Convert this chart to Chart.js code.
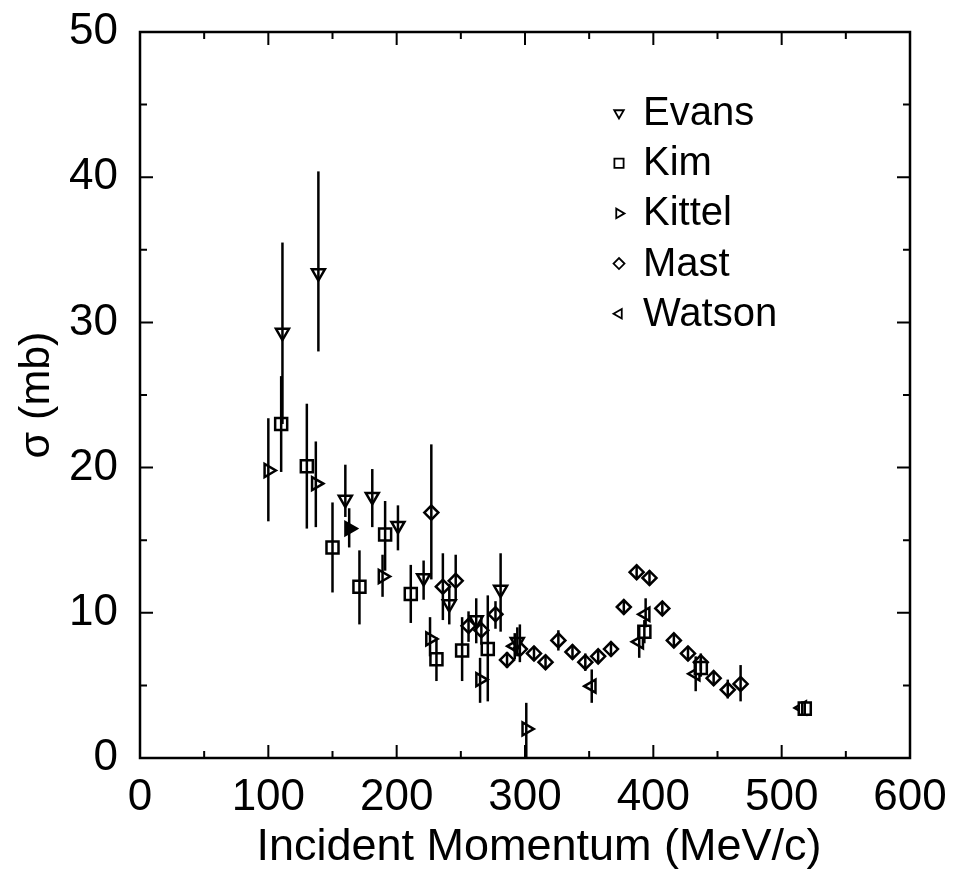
<!DOCTYPE html>
<html>
<head>
<meta charset="utf-8">
<script src="https://cdn.jsdelivr.net/npm/chart.js@4.4.1/dist/chart.umd.min.js"></script>
<style>
  html, body { margin: 0; padding: 0; background: #fff; }
  #wrap { width: 953px; height: 869px; }
</style>
</head>
<body>
<div id="wrap"><canvas id="chart"></canvas></div>
<script>
// tick labels
const xTicks = [0, 100, 200, 300, 400, 500, 600];
const yTicks = [0, 10, 20, 30, 40, 50];

// Evans
const evansX  = [111, 139, 160, 181, 201, 221, 241, 262, 281, 294];
const evansY  = [29.3, 33.4, 17.8, 18.0, 16.0, 12.4, 10.6, 9.5, 11.6, 8.0];
const evansLo = [23.0, 28.0, 16.6, 15.9, 14.3, 10.9, 9.2, 7.9, 8.7, 7.0];
const evansHi = [35.5, 40.4, 20.2, 19.9, 17.4, 13.6, 12.0, 11.0, 14.1, 9.0];

// Kim
const kimX  = [110, 130, 150, 171, 191, 211, 231, 251, 271, 393, 437, 518];
const kimY  = [23.0, 20.1, 14.5, 11.8, 15.4, 11.3, 6.8, 7.4, 7.5, 8.7, 6.2, 3.4];
const kimLo = [19.7, 15.8, 11.4, 9.2, 12.9, 9.3, 5.3, 5.3, 3.9, 7.9, 5.6, 3.0];
const kimHi = [26.3, 24.4, 17.6, 14.3, 17.7, 13.3, 8.3, 9.7, 11.2, 9.5, 6.8, 3.8];

// Kittel
const kittelX  = [100, 137, 163, 189, 226, 265, 301];
const kittelY  = [19.8, 18.9, 15.8, 12.5, 8.2, 5.4, 2.0];
const kittelLo = [16.3, 15.9, 14.5, 11.1, 7.0, 3.8, 0.0];
const kittelHi = [23.4, 21.8, 17.2, 14.0, 9.7, 6.9, 3.8];

// Mast
const mastX  = [227, 236, 246, 256, 266, 277, 286, 296, 307, 316, 326, 337, 347,
                357, 367, 377, 387, 397, 407, 416, 427, 437, 447, 458, 468];
const mastY  = [16.9, 11.8, 12.2, 9.1, 8.8, 9.9, 6.75, 7.5, 7.2, 6.6, 8.1, 7.3, 6.6,
                7.0, 7.5, 10.4, 12.8, 12.4, 10.3, 8.1, 7.2, 6.6, 5.5, 4.7, 5.1];
const mastLo = [12.3, 9.5, 10.9, 8.0, 7.8, 8.9, 6.2, 6.6, 6.7, 6.1, 7.4, 6.8, 6.0,
                6.5, 7.0, 9.9, 12.3, 11.9, 9.8, 7.6, 6.7, 6.0, 5.0, 4.1, 3.9];
const mastHi = [21.6, 14.1, 14.0, 10.1, 9.8, 10.8, 7.3, 9.2, 7.7, 7.1, 8.8, 7.8, 7.2,
                7.5, 8.0, 10.9, 13.3, 12.9, 10.8, 8.6, 7.7, 7.2, 6.0, 5.4, 6.4];

// Watson
const watsonX  = [292, 352, 389, 394, 433, 516];
const watsonY  = [7.7, 4.95, 8.0, 9.9, 5.8, 3.45];
const watsonLo = [6.8, 3.8, 6.9, 9.0, 4.6, 3.0];
const watsonHi = [8.6, 6.1, 9.1, 11.0, 7.0, 3.9];

const FONT = "'Liberation Sans', Arial, Helvetica, sans-serif";
const xTitle = 'Incident Momentum (MeV/c)';

function pts(xs, ys) {
  return xs.map((x, i) => ({ x: x, y: ys[i] }));
}

function series(label, xs, ys, lo, hi, style, rot, r) {
  return {
    label: label,
    data: pts(xs, ys),
    errLo: lo,
    errHi: hi,
    pointStyle: style,
    rotation: rot,
    radius: r,
    borderWidth: 2.5,
    borderColor: '#000',
    backgroundColor: '#fff',
    showLine: false
  };
}

const datasets = [
  series('Evans', evansX, evansY, evansLo, evansHi, 'triangle', 180, 7.5),
  series('Kim', kimX, kimY, kimLo, kimHi, 'rect', 0, 8.5),
  series('Kittel', kittelX, kittelY, kittelLo, kittelHi, 'triangle', 90, 7.5),
  series('Mast', mastX, mastY, mastLo, mastHi, 'rectRot', 0, 7),
  series('Watson', watsonX, watsonY, watsonLo, watsonHi, 'triangle', 270, 7.5)
];
// one Kittel point is printed filled in the original
datasets[2].backgroundColor = ctx => ctx.dataIndex === 2 ? '#000' : '#fff';

// vertical error bars, drawn over the markers like the original
const errorBars = {
  id: 'errorBars',
  afterDatasetsDraw(chart) {
    const ctx = chart.ctx;
    const xs = chart.scales.x, ys = chart.scales.y;
    ctx.save();
    ctx.strokeStyle = '#000';
    ctx.lineWidth = 2.5;
    chart.data.datasets.forEach(ds => {
      ds.data.forEach((p, i) => {
        const px = xs.getPixelForValue(p.x);
        ctx.beginPath();
        ctx.moveTo(px, ys.getPixelForValue(ds.errLo[i]));
        ctx.lineTo(px, ys.getPixelForValue(ds.errHi[i]));
        ctx.stroke();
      });
    });
    ctx.restore();
  }
};

// frame + inward ticks on all four sides, and the x title (sits a bit right of centre)
const frame = {
  id: 'frame',
  afterDraw(chart) {
    const ctx = chart.ctx;
    const a = chart.chartArea;
    const xs = chart.scales.x, ys = chart.scales.y;
    ctx.save();
    ctx.strokeStyle = '#000';
    ctx.lineWidth = 2.5;
    ctx.strokeRect(a.left, a.top, a.right - a.left, a.bottom - a.top);
    ctx.lineWidth = 2;
    ctx.beginPath();
    for (let v = 0; v <= 600; v += 50) {
      const px = xs.getPixelForValue(v);
      const len = v % 100 === 0 ? 13 : 7;
      ctx.moveTo(px, a.bottom); ctx.lineTo(px, a.bottom - len);
      ctx.moveTo(px, a.top); ctx.lineTo(px, a.top + len);
    }
    for (let v = 0; v <= 50; v += 5) {
      const py = ys.getPixelForValue(v);
      const len = v % 10 === 0 ? 13 : 7;
      ctx.moveTo(a.left, py); ctx.lineTo(a.left + len, py);
      ctx.moveTo(a.right, py); ctx.lineTo(a.right - len, py);
    }
    ctx.stroke();

    ctx.fillStyle = '#000';
    ctx.font = '45px ' + FONT;
    ctx.textAlign = 'center';
    ctx.textBaseline = 'middle';
    ctx.fillText(xTitle, (a.left + a.right) / 2 + 14, 848);
    ctx.restore();
  }
};

// legend inside the plot, upper right
const insideLegend = {
  id: 'insideLegend',
  afterDraw(chart) {
    const ctx = chart.ctx;
    ctx.save();
    ctx.textBaseline = 'middle';
    chart.data.datasets.forEach((ds, i) => {
      const y = 113 + i * 50.2;
      ctx.fillStyle = '#fff';
      ctx.strokeStyle = '#000';
      ctx.lineWidth = 1.8;
      Chart.helpers.drawPoint(ctx, {
        pointStyle: ds.pointStyle,
        rotation: ds.rotation,
        radius: ds.pointStyle === 'rect' ? 6.5 : 5.5,
        borderWidth: 1.8
      }, 619, y);
      ctx.fillStyle = '#000';
      ctx.font = '40px ' + FONT;
      ctx.fillText(ds.label, 643, y + 1);
    });
    ctx.restore();
  }
};

// keep the plot box where the original has it, whatever the label overhang
function noOverhang(s) {
  s.paddingTop = 0; s.paddingBottom = 0; s.paddingLeft = 0; s.paddingRight = 0;
}

new Chart(document.getElementById('chart'), {
  type: 'scatter',
  data: { datasets: datasets },
  options: {
    responsive: true,
    maintainAspectRatio: false,
    animation: false,
    layout: { padding: { top: 32, right: 43, left: 0, bottom: 0 } },
    plugins: {
      legend: { display: false },
      tooltip: { enabled: false }
    },
    scales: {
      x: {
        type: 'linear',
        min: 0, max: 600,
        afterBuildTicks: s => { s.ticks = xTicks.map(v => ({ value: v })); },
        afterFit: s => { s.height = 111; noOverhang(s); },
        grid: { display: false, drawTicks: false },
        border: { display: false },
        ticks: { color: '#000', padding: 13, font: { family: FONT, size: 44 } },
        title: { display: false }
      },
      y: {
        type: 'linear',
        min: 0, max: 50,
        afterBuildTicks: s => { s.ticks = yTicks.map(v => ({ value: v })); },
        afterFit: s => { s.width = 140; noOverhang(s); },
        grid: { display: false, drawTicks: false },
        border: { display: false },
        ticks: { color: '#000', padding: 22, font: { family: FONT, size: 44 } },
        title: {
          display: true,
          text: 'σ (mb)',
          color: '#000',
          padding: { top: 16, bottom: 0 },
          font: { family: FONT, size: 43, lineHeight: 1 }
        }
      }
    }
  },
  plugins: [errorBars, frame, insideLegend]
});
</script>
</body>
</html>
